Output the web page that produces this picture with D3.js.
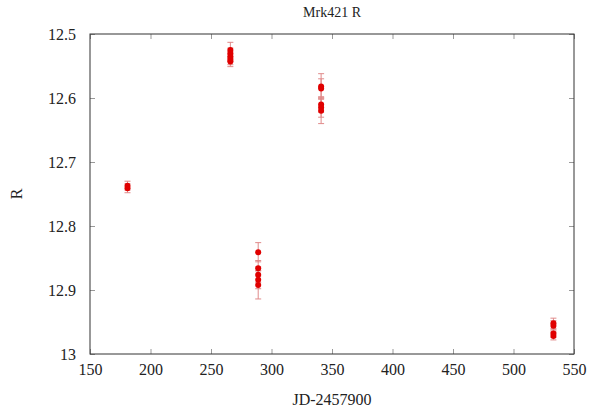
<!DOCTYPE html>
<html>
<head>
<meta charset="utf-8">
<script src="https://cdn.jsdelivr.net/npm/d3@7"></script>
<style>
  body { margin: 0; background: #fff; }
  svg text { font-family: 'Liberation Serif', 'Times New Roman', 'DejaVu Serif', serif !important; fill: #222; }
</style>
</head>
<body>
<div class="chart"></div>
<script>
// observation days (JD-2457900), magnitudes and errors
var jd   = [181, 181, 266, 266, 266, 266, 266, 289, 289, 289, 289, 289, 341, 341, 341, 341, 341, 533, 533, 533, 533];
var mag  = [12.737, 12.741, 12.525, 12.53, 12.535, 12.54, 12.543,
            12.841, 12.866, 12.876, 12.884, 12.892,
            12.582, 12.585, 12.61, 12.615, 12.62,
            12.952, 12.956, 12.968, 12.972];
var err  = [0.007, 0.007, 0.012, 0.008, 0.008, 0.008, 0.008,
            0.015, 0.012, 0.012, 0.014, 0.022,
            0.02, 0.015, 0.012, 0.015, 0.02,
            0.008, 0.008, 0.006, 0.006];
var xTicks = [150, 200, 250, 300, 350, 400, 450, 500, 550];
var yTicks = [12.5, 12.6, 12.7, 12.8, 12.9, 13];

var svgWidth = 590;
var svgHeight = 412;
var margin = { top: 34, right: 16, bottom: 58, left: 90 };
var width = svgWidth - margin.left - margin.right;
var height = svgHeight - margin.top - margin.bottom;

var svg = d3.select(".chart").append("svg")
  .attr("width", svgWidth)
  .attr("height", svgHeight);

var chartGroup = svg.append("g")
  .attr("transform", `translate(${margin.left}, ${margin.top})`);

var xScale = d3.scaleLinear().domain([150, 550]).range([0, width]);
var yScale = d3.scaleLinear().domain([12.5, 13]).range([0, height]);

// axes with inward ticks, mirrored on top and right
var bottomAxis = d3.axisBottom(xScale).tickValues(xTicks).tickSize(-5).tickPadding(10).tickFormat(d3.format("d"));
var topAxis = d3.axisTop(xScale).tickValues(xTicks).tickSize(-5).tickFormat("");
var leftAxis = d3.axisLeft(yScale).tickValues(yTicks).tickSize(-5).tickPadding(14).tickFormat(d => d3.format("")(d));
var rightAxis = d3.axisRight(yScale).tickValues(yTicks).tickSize(-5).tickFormat("");

function styleAxis(g) {
  g.attr("font-family", null).attr("font-size", null);
  g.select(".domain").remove();
  g.selectAll(".tick line").attr("stroke", "#999");
  g.selectAll(".tick text").style("font-size", "16px").attr("fill", "#222");
}

chartGroup.append("g").attr("transform", `translate(0, ${height})`).call(bottomAxis).call(styleAxis);
chartGroup.append("g").call(topAxis).call(styleAxis);
chartGroup.append("g").call(leftAxis).call(styleAxis);
chartGroup.append("g").attr("transform", `translate(${width}, 0)`).call(rightAxis).call(styleAxis);

// frame
chartGroup.append("rect")
  .attr("width", width)
  .attr("height", height)
  .attr("fill", "none")
  .attr("stroke", "#333")
  .attr("stroke-width", 1);

var data = jd.map((d, i) => ({ x: d, y: mag[i], e: err[i] }));

// error bars
var errGroup = chartGroup.append("g")
  .attr("stroke", "#e08a8a")
  .attr("stroke-width", 1);

errGroup.selectAll(".ebar")
  .data(data)
  .enter()
  .append("line")
  .attr("x1", d => xScale(d.x))
  .attr("x2", d => xScale(d.x))
  .attr("y1", d => yScale(d.y - d.e))
  .attr("y2", d => yScale(d.y + d.e));

errGroup.selectAll(".ecapTop")
  .data(data)
  .enter()
  .append("line")
  .attr("x1", d => xScale(d.x) - 3)
  .attr("x2", d => xScale(d.x) + 3)
  .attr("y1", d => yScale(d.y - d.e))
  .attr("y2", d => yScale(d.y - d.e));

errGroup.selectAll(".ecapBot")
  .data(data)
  .enter()
  .append("line")
  .attr("x1", d => xScale(d.x) - 3)
  .attr("x2", d => xScale(d.x) + 3)
  .attr("y1", d => yScale(d.y + d.e))
  .attr("y2", d => yScale(d.y + d.e));

// points
chartGroup.selectAll("circle")
  .data(data)
  .enter()
  .append("circle")
  .attr("cx", d => xScale(d.x))
  .attr("cy", d => yScale(d.y))
  .attr("r", 3)
  .attr("fill", "#e00000");

// title
svg.append("text")
  .attr("x", margin.left + width / 2)
  .attr("y", 17)
  .attr("text-anchor", "middle")
  .style("font-size", "14px")
  .text("Mrk421 R");

// x label
svg.append("text")
  .attr("x", margin.left + width / 2)
  .attr("y", svgHeight - 7)
  .attr("text-anchor", "middle")
  .style("font-size", "16px")
  .text("JD-2457900");

// y label
svg.append("text")
  .attr("transform", "rotate(-90)")
  .attr("x", -(margin.top + height / 2))
  .attr("y", 22)
  .attr("text-anchor", "middle")
  .style("font-size", "16px")
  .text("R");
</script>
</body>
</html>
